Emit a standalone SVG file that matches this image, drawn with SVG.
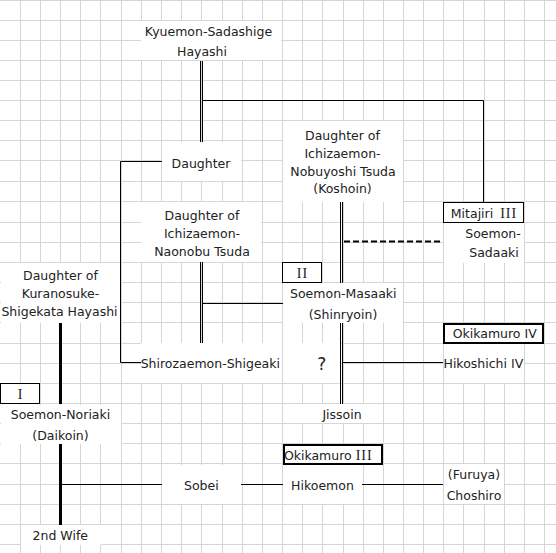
<svg xmlns="http://www.w3.org/2000/svg" width="556" height="553" viewBox="0 0 556 553">
<defs>
<style>
.grid{stroke:#d6d6d6;stroke-width:1;fill:none}
.bg{fill:#ffffff;stroke:none}
.ln{stroke:#000;stroke-width:1;fill:none}
.thick{stroke:#000;stroke-width:3;fill:none}
.dash{stroke:#000;stroke-width:2;fill:none;stroke-dasharray:6 3}
.box{fill:#fff;stroke:#000;stroke-width:1}
.bbox{fill:#fff;stroke:#000;stroke-width:2}
text{font-family:"DejaVu Sans","Noto Sans CJK JP",sans-serif;font-size:12.5px;fill:#222;text-anchor:middle}
.rn{font-family:"Liberation Serif",serif;font-size:14px;letter-spacing:1px}
.q{font-size:17px}
</style>
</defs>
<rect x="0" y="0" width="556" height="553" fill="#fff"/>
<path class="grid" d="M20.5 0V553M40.5 0V553M60.5 0V553M80.5 0V553M100.5 0V553M121.5 0V553M141.5 0V553M161.5 0V553M181.5 0V553M201.5 0V553M222.5 0V553M242.5 0V553M262.5 0V553M282.5 0V553M302.5 0V553M322.5 0V553M343.5 0V553M363.5 0V553M383.5 0V553M403.5 0V553M423.5 0V553M443.5 0V553M463.5 0V553M484.5 0V553M504.5 0V553M524.5 0V553M544.5 0V553
M0 0.5H556M0 20.5H556M0 40.5H556M0 60.5H556M0 80.5H556M0 100.5H556M0 120.5H556M0 140.5H556M0 160.5H556M0 181.5H556M0 201.5H556M0 222.5H556M0 242.5H556M0 262.5H556M0 282.5H556M0 302.5H556M0 322.5H556M0 343.5H556M0 363.5H556M0 383.5H556M0 403.5H556M0 423.5H556M0 443.5H556M0 463.5H556M0 484.5H556M0 504.5H556M0 524.5H556M0 544.5H556"/>

<g id="connectors">
<path class="ln" d="M200.5 61V142M202.5 61V142"/>
<path class="ln" d="M203 100.5H483.5V203"/>
<path class="ln" d="M162 161.5H120.5V362.5H141"/>
<path class="ln" d="M200.5 262V343M202.5 262V343"/>
<path class="ln" d="M203 303.5H283"/>
<path class="ln" d="M340.5 202V283M342.5 202V283M340.5 323V404M342.5 323V404"/>
<path class="dash" d="M344 241.5H443"/>
<path class="ln" d="M343 362.5H443"/>
<path class="thick" d="M60.5 323V404M60.5 444V525"/>
<path class="ln" d="M62 484.5H162M241 484.5H283M362 484.5H443"/>
</g>

<g id="kyuemon">
<rect class="bg" x="141" y="21" width="140" height="39"/>
<text x="208.5" y="36">Kyuemon-Sadashige</text>
<text x="202" y="56">Hayashi</text>
</g>
<g id="daughter">
<rect class="bg" x="162" y="142" width="79" height="39"/>
<text x="201" y="167.5">Daughter</text>
</g>
<g id="koshoin">
<rect class="bg" x="283" y="121" width="120" height="81"/>
<text x="342.5" y="139.5">Daughter of</text>
<text x="342.5" y="157.5">Ichizaemon-</text>
<text x="343" y="175.5">Nobuyoshi Tsuda</text>
<text x="342.5" y="193">(Koshoin)</text>
</g>
<g id="naonobu">
<rect class="bg" x="141" y="202" width="120" height="60"/>
<text x="202" y="219.5">Daughter of</text>
<text x="202" y="237.5">Ichizaemon-</text>
<text x="202" y="255.5">Naonobu Tsuda</text>
</g>
<g id="kuranosuke">
<rect class="bg" x="1" y="263" width="119" height="60"/>
<text x="60.5" y="279.5">Daughter of</text>
<text x="60.5" y="297.5">Kuranosuke-</text>
<text x="59.5" y="316">Shigekata Hayashi</text>
</g>
<g id="sadaaki">
<rect class="bg" x="444" y="223" width="80" height="40"/>
<rect class="box" x="443.5" y="202.5" width="80" height="20"/>
<text x="484" y="217.5">Mitajiri <tspan class="rn" dx="3">III</tspan></text>
<text x="493" y="238">Soemon-</text>
<text x="494" y="256.5">Sadaaki</text>
</g>
<g id="masaaki">
<rect class="bg" x="283" y="283" width="120" height="40"/>
<rect class="box" x="282.5" y="262.5" width="39" height="20"/>
<text class="rn" x="302.5" y="277.5">II</text>
<text x="343.3" y="298">Soemon-Masaaki</text>
<text x="343" y="318.5">(Shinryoin)</text>
</g>
<g id="shigeaki">
<rect class="bg" x="141" y="343" width="141" height="40"/>
<text x="210.3" y="368">Shirozaemon-Shigeaki</text>
</g>
<g id="unknown">
<rect class="bg" x="283" y="343" width="57" height="40"/>
<text class="q" x="321.7" y="369.5">?</text>
</g>
<g id="hikoshichi">
<rect class="bg" x="444" y="344" width="80" height="39"/>
<rect class="bbox" x="444" y="324" width="99" height="19"/>
<text x="494.7" y="338">Okikamuro IV</text>
<text x="443.5" y="368" style="text-anchor:start">Hikoshichi IV</text>
</g>
<g id="jissoin">
<rect class="bg" x="283" y="404" width="100" height="19"/>
<text x="342" y="419">Jissoin</text>
</g>
<g id="noriaki">
<rect class="bg" x="1" y="405" width="120" height="39"/>
<rect class="box" x="0.5" y="383.5" width="39" height="20"/>
<text class="rn" x="20.5" y="398.5">I</text>
<text x="60.5" y="419">Soemon-Noriaki</text>
<text x="60.5" y="439.5">(Daikoin)</text>
</g>
<g id="sobei">
<rect class="bg" x="162" y="465" width="79" height="39"/>
<text x="201.3" y="490">Sobei</text>
</g>
<g id="hikoemon">
<rect class="bg" x="283" y="465" width="79" height="39"/>
<rect class="bbox" x="284" y="445" width="98" height="19"/>
<text x="328.3" y="459.5">Okikamuro <tspan class="rn">III</tspan></text>
<text x="322.5" y="490">Hikoemon</text>
</g>
<g id="choshiro">
<rect class="bg" x="444" y="464" width="60" height="40"/>
<text x="474" y="478.5">(Furuya)</text>
<text x="474" y="499.5">Choshiro</text>
</g>
<g id="wife2">
<rect class="bg" x="21" y="525" width="80" height="20"/>
<text x="60.3" y="539.5">2nd Wife</text>
</g>
</svg>
